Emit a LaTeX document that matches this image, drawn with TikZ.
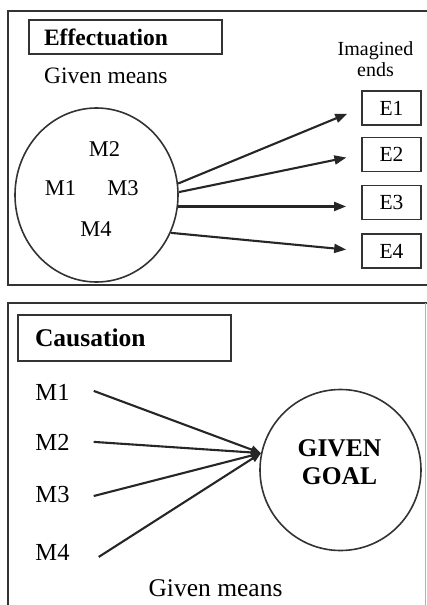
\documentclass[tikz,border=0pt]{standalone}
\usepackage{fontspec}
\setmainfont{Liberation Serif}
\usetikzlibrary{arrows.meta,shapes.geometric}
\begin{document}
\begin{tikzpicture}[x=1pt,y=-1pt,
  frameline/.style={draw=black!80,line width=2.2pt},
  titlebox/.style={draw=black!80,line width=2pt,align=left,inner ysep=0pt},
  ebox/.style={draw=black!80,line width=1.8pt,minimum width=59pt,minimum height=34pt,inner sep=0pt,font=\fontsize{21.5}{24}\selectfont},
  lbl/.style={inner sep=0pt,anchor=base},
  conn/.style={line width=2.1pt,draw=black!85,-{Triangle[length=12pt,width=9pt]}},
  conv/.style={line width=2.1pt,draw=black!85,-{Triangle[length=10pt,width=8pt]}},
]
\useasboundingbox (0,0) rectangle (427,605);
\clip (0,0) rectangle (427,605);
% frames
\draw[frameline] (432,11) -- (8,11) -- (8,285) -- (432,285);
\draw[frameline] (8,610) -- (8,303) -- (432,303);
\draw[draw=black!30,line width=1pt] (425,303) -- (425,610);

% ---- Effectuation panel ----
\node[titlebox,text width=163pt,inner xsep=15pt,minimum height=34pt,font=\bfseries\fontsize{23.5}{27}\selectfont] (eff) at (125.5,37) {Effectuation};
\node[inner sep=0pt,anchor=base west,font=\fontsize{23.5}{27}\selectfont] (gm1) at (44,83) {Given means};
\node[inner sep=0pt,align=center,font=\fontsize{20}{21}\selectfont] (ie) at (375.5,59) {Imagined\\ends};

\node[ellipse,draw=black!80,line width=1.6pt,minimum width=163pt,minimum height=174pt,inner sep=0pt] (c1) at (96.5,195) {};
\node[lbl,font=\fontsize{22.5}{26}\selectfont] (m2a) at (104.5,156) {M2};
\node[lbl,font=\fontsize{22.5}{26}\selectfont] (m1a) at (60.5,195) {M1};
\node[lbl,font=\fontsize{22.5}{26}\selectfont] (m3a) at (123,195) {M3};
\node[lbl,font=\fontsize{22.5}{26}\selectfont] (m4a) at (96,236) {M4};

\node[ebox] (e1) at (391.5,108) {E1};
\node[ebox] (e2) at (391.5,154.5) {E2};
\node[ebox] (e3) at (391.5,202.5) {E3};
\node[ebox] (e4) at (391.5,251) {E4};

\draw[conn,shorten >=15pt] (c1.8) -- (e1.west);
\draw[conn,shorten >=15pt] (c1.2) -- (e2.west);
\draw[conn,shorten >=15pt] (c1.-8.5) -- (c1.-8.5 -| e3.west);
\draw[conn,shorten >=15pt] (c1.-27) -- (e4.west);

% ---- Causation panel ----
\node[titlebox,text width=179pt,inner xsep=17pt,minimum height=46pt,font=\bfseries\fontsize{25.5}{29}\selectfont] (cau) at (124.5,338) {Causation};
\node[lbl,font=\fontsize{24.5}{28}\selectfont] (m1b) at (52.5,400) {M1};
\node[lbl,font=\fontsize{24.5}{28}\selectfont] (m2b) at (52.5,450) {M2};
\node[lbl,font=\fontsize{24.5}{28}\selectfont] (m3b) at (52.5,502) {M3};
\node[lbl,font=\fontsize{24.5}{28}\selectfont] (m4b) at (52.5,560) {M4};

\node[circle,draw=black!80,line width=1.6pt,minimum size=161pt,inner sep=0pt] (goal) at (340.5,470) {};
\node[inner sep=0pt,align=center,font=\bfseries\fontsize{25.5}{28}\selectfont] (gg) at (339.5,462.5) {GIVEN\\GOAL};
\node[lbl,font=\fontsize{25.5}{29}\selectfont] (gm2) at (215.5,596) {Given means};

\draw[conv] ([xshift=24pt,yshift=1pt]m1b.east) -- (goal.168);
\draw[conv] ([xshift=24pt]m2b.east) -- (goal.168);
\draw[conv] ([xshift=24pt,yshift=-2pt]m3b.east) -- (goal.168);
\draw[conv] ([xshift=29pt,yshift=-5pt]m4b.east) -- (goal.168);
\end{tikzpicture}
\end{document}
